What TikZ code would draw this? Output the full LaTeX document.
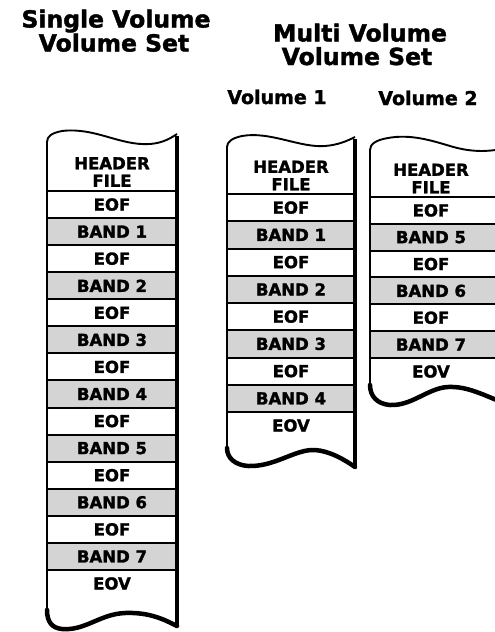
\documentclass[tikz,border=0pt]{standalone}
\usepackage{fontspec}
\setmainfont{DejaVu Sans}
\newfontfamily\heavyfont{DejaVu Sans Bold}[FakeBold=1.6]
\begin{document}
\begin{tikzpicture}[x=1pt,y=-1pt,
  head/.style={font=\fontsize{23.5}{24}\selectfont\heavyfont, anchor=base, inner sep=0pt},
  vol/.style={font=\fontsize{19}{19}\selectfont\heavyfont, anchor=base, inner sep=0pt},
  celltext/.style={inner sep=0pt, font=\fontsize{16.5}{17.5}\selectfont\heavyfont, align=center},
  cell/.style={draw=black, line width=2pt, inner sep=0pt, celltext},
  band/.style={fill=black!17},
  plain/.style={fill=white},
  edge/.style={line width=1.9pt, line join=round},
  rightedge/.style={line width=3.6pt},
  bottomedge/.style={line width=4.5pt, line cap=round},
]
\useasboundingbox (0,0) rectangle (495,632);

% headings
\node[head] (h1a) at (116,27.5) {Single Volume};
\node[head] (h1b) at (114,51.5) {Volume Set};
\node[head] (h2a) at (360,41.5) {Multi Volume};
\node[head] (h2b) at (357,65) {Volume Set};
\node[vol] (v1) at (277,104) {Volume 1};
\node[vol] (v2) at (428,105) {Volume 2};

% ---------- single volume ----------
\foreach \lab [count=\i from 0] in {EOF,BAND 1,EOF,BAND 2,EOF,BAND 3,EOF,BAND 4,EOF,BAND 5,EOF,BAND 6,EOF,BAND 7} {
  \pgfmathsetmacro\yc{191+27.07*\i+13.535}
  \ifodd\i \def\sh{band}\else\def\sh{plain}\fi
  \node[cell,\sh,minimum width=130pt,minimum height=27.07pt] (s\i) at (112,\yc) {\lab};
}
\node[celltext] (shead) at (112,172) {HEADER\\FILE};
\node[celltext] (seov) at (112,583.5) {EOV};
\draw[edge] (47,610) -- (47,142) .. controls (47,136) and (52,133) .. (62,131)
  .. controls (95,127) and (120,146) .. (150,144) .. controls (163,143) and (171,138) .. (177,134);
\draw[rightedge] (177,136) -- (177,626);
\draw[bottomedge] (47,610) .. controls (47,622) and (52,628) .. (62,629)
  .. controls (85,631) and (100,614) .. (125,613) .. controls (150,612) and (165,620) .. (177,626);

% ---------- volume 1 ----------
\foreach \lab [count=\i from 0] in {EOF,BAND 1,EOF,BAND 2,EOF,BAND 3,EOF,BAND 4} {
  \pgfmathsetmacro\yc{194+27.25*\i+13.625}
  \ifodd\i \def\sh{band}\else\def\sh{plain}\fi
  \node[cell,\sh,minimum width=128pt,minimum height=27.25pt] (a\i) at (291,\yc) {\lab};
}
\node[celltext] (ahead) at (291,175.5) {HEADER\\FILE};
\node[celltext] (aeov) at (291,425.5) {EOV};
\draw[edge] (227,448) -- (227,147) .. controls (227,142) and (232,138) .. (242,136)
  .. controls (270,131) and (300,148) .. (325,146) .. controls (338,145) and (347,141) .. (355,137);
\draw[rightedge] (355,139) -- (355,467);
\draw[bottomedge] (227,448) .. controls (227,458) and (235,465) .. (248,466)
  .. controls (275,467) and (295,449) .. (315,450) .. controls (330,451) and (345,460) .. (355,467);

% ---------- volume 2 ----------
\begin{scope}
\clip (0,0) rectangle (495,632);
\foreach \lab [count=\i from 0] in {EOF,BAND 5,EOF,BAND 6,EOF,BAND 7} {
  \pgfmathsetmacro\yc{197+26.83*\i+13.415}
  \ifodd\i \def\sh{band}\else\def\sh{plain}\fi
  \node[draw=black,line width=2pt,inner sep=0pt,\sh,minimum width=134pt,minimum height=26.83pt] (b\i) at (437,\yc) {};
  \node[celltext] (bt\i) at (431,\yc) {\lab};
}
\node[celltext] (bhead) at (431,178.5) {HEADER\\FILE};
\node[celltext] (beov) at (431,371.5) {EOV};
\draw[edge] (370,385) -- (370,150) .. controls (370,144) and (376,140) .. (388,138)
  .. controls (410,134) and (430,140) .. (450,146) .. controls (470,152) and (485,152) .. (502,149);
\draw[bottomedge] (370,385) .. controls (370,396) and (377,404) .. (390,405)
  .. controls (412,406) and (428,388) .. (448,387) .. controls (468,386) and (485,396) .. (502,402);
\end{scope}
\end{tikzpicture}
\end{document}
